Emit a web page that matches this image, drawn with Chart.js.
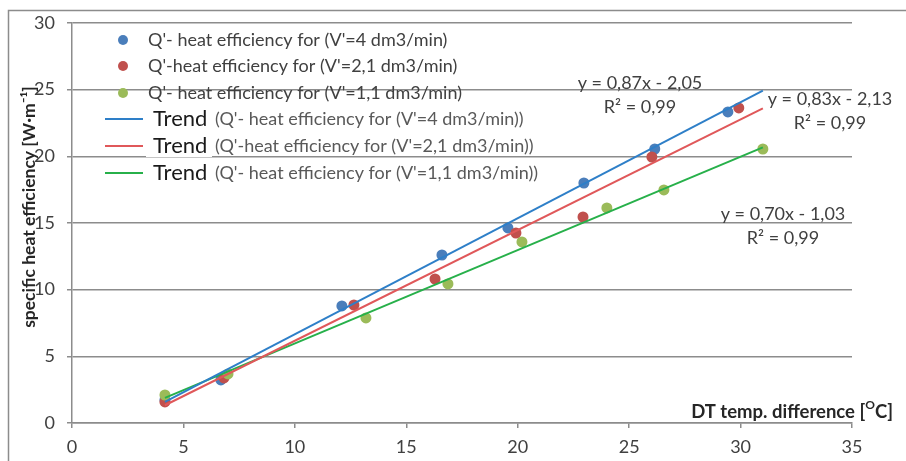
<!DOCTYPE html>
<html>
<head>
<meta charset="utf-8">
<script src="https://cdn.jsdelivr.net/npm/chart.js@4.4.1/dist/chart.umd.min.js"></script>
<style>
  html, body { margin: 0; padding: 0; background: #fff; }
</style>
</head>
<body>
<canvas id="grafico" width="906" height="461"></canvas>
<script>
// measured points (DT in degC, specific heat efficiency W/m)
const dt4 = [4.17, 6.68, 12.11, 16.6, 19.56, 22.97, 26.15, 29.43];
const q4  = [1.73, 3.23, 8.78, 12.6, 14.63, 18.0, 20.55, 23.33];
const dt21 = [4.17, 6.82, 12.65, 16.29, 19.92, 22.93, 26.02, 29.92];
const q21  = [1.58, 3.38, 8.85, 10.8, 14.25, 15.45, 19.95, 23.63];
const dt11 = [4.17, 7.0, 13.19, 16.87, 20.19, 24.0, 26.56, 31.0];
const q11  = [2.1, 3.68, 7.88, 10.43, 13.58, 16.13, 17.48, 20.55];

// trend lines y = a*x + b, drawn over the range below
const slopes = [0.87, 0.83, 0.70];
const intercepts = [-2.05, -2.13, -1.03];
const trendRange = [4.17, 31.0];
const eqLabels = [
  ['y = 0,87x - 2,05', 'R² = 0,99'],
  ['y = 0,83x - 2,13', 'R² = 0,99'],
  ['y = 0,70x - 1,03', 'R² = 0,99']
];

const pointLabels = [
  "Q'- heat efficiency for (V'=4 dm3/min)",
  "Q'-heat efficiency for (V'=2,1 dm3/min)",
  "Q'- heat efficiency for (V'=1,1 dm3/min)"
];
const trendLabels = [
  "(Q'- heat efficiency for (V'=4 dm3/min))",
  "(Q'-heat efficiency for (V'=2,1 dm3/min))",
  "(Q'- heat efficiency for (V'=1,1 dm3/min))"
];

const xTicks = [0, 5, 10, 15, 20, 25, 30, 35];
const yTicks = [0, 5, 10, 15, 20, 25, 30];

const pointColors = ['#4a7ebb', '#c0504d', '#9bbb59'];
const lineColors = ['#2e7fc8', '#e0585a', '#27b04a'];
const gris = '#8c8c8c';
const texto = '#404040';

function puntos(xs, ys) {
  return xs.map((x, i) => ({ x: x, y: ys[i] }));
}
function tendencia(i) {
  return trendRange.map(x => ({ x: x, y: slopes[i] * x + intercepts[i] }));
}

const seriesX = [dt4, dt21, dt11];
const seriesY = [q4, q21, q11];
const datasets = [];
for (let i = 0; i < 3; i++) {
  datasets.push({
    type: 'scatter',
    label: pointLabels[i],
    data: puntos(seriesX[i], seriesY[i]),
    backgroundColor: pointColors[i],
    borderColor: pointColors[i],
    pointRadius: 5.5,
    pointBorderWidth: 0,
    order: 3 - i + 1
  });
}
for (let i = 0; i < 3; i++) {
  datasets.push({
    type: 'line',
    label: 'Trend ' + trendLabels[i],
    data: tendencia(i),
    borderColor: lineColors[i],
    borderWidth: 2,
    pointRadius: 0,
    fill: false,
    order: 0
  });
}

const extras = {
  id: 'extras',
  beforeDraw(chart) {
    const ctx = chart.ctx;
    ctx.save();
    ctx.fillStyle = '#fff';
    ctx.fillRect(0, 0, chart.width, chart.height);
    ctx.strokeStyle = gris;
    ctx.lineWidth = 1.5;
    ctx.strokeRect(8.5, 10.5, 920, 480);
    ctx.restore();
  },
  afterDraw(chart) {
    const ctx = chart.ctx;
    ctx.save();
    ctx.textBaseline = 'middle';

    // legend
    const filas = [40, 66, 93, 119, 146, 173];
    for (let i = 0; i < 3; i++) {
      ctx.fillStyle = pointColors[i];
      ctx.beginPath();
      ctx.arc(123, filas[i], 5, 0, Math.PI * 2);
      ctx.fill();
      ctx.fillStyle = texto;
      ctx.font = '18px Lato';
      ctx.textAlign = 'left';
      ctx.fillText(pointLabels[i], 148, filas[i]);
    }
    for (let i = 0; i < 3; i++) {
      const y = filas[i + 3];
      ctx.fillStyle = '#fff';
      ctx.fillRect(146, y - 11, 66, 22);
      ctx.strokeStyle = lineColors[i];
      ctx.lineWidth = 2;
      ctx.beginPath();
      ctx.moveTo(105, y);
      ctx.lineTo(143, y);
      ctx.stroke();
      ctx.fillStyle = '#1a1a1a';
      ctx.font = '22px Lato';
      ctx.fillText('Trend', 153, y);
      ctx.fillStyle = '#595959';
      ctx.font = '18px Lato';
      ctx.fillText(trendLabels[i], 215, y);
    }

    // trend equations
    const eqPos = [[640, 83, 107], [830, 99, 123], [783, 214, 238]];
    ctx.fillStyle = texto;
    ctx.font = '18px Lato';
    ctx.textAlign = 'center';
    for (let i = 0; i < 3; i++) {
      ctx.fillText(eqLabels[i][0], eqPos[i][0], eqPos[i][1]);
      ctx.fillText(eqLabels[i][1], eqPos[i][0], eqPos[i][2]);
    }

    // y axis title
    ctx.save();
    ctx.translate(29, 207);
    ctx.rotate(-Math.PI / 2);
    ctx.fillStyle = '#262626';
    ctx.font = 'bold 17.5px Lato';
    ctx.textAlign = 'center';
    ctx.fillText('specific heat efficiency [W·m⁻¹]', 0, 0);
    ctx.restore();

    // x axis title, right aligned, with raised O
    ctx.fillStyle = '#262626';
    ctx.textAlign = 'left';
    const p1 = 'DT temp. difference [';
    const p2 = 'O';
    const p3 = 'C]';
    ctx.font = 'bold 18.5px Lato';
    const w1 = ctx.measureText(p1).width;
    const w3 = ctx.measureText(p3).width;
    ctx.font = 'bold 12px Lato';
    const w2 = ctx.measureText(p2).width;
    const x = 893 - w1 - w2 - w3;
    ctx.font = 'bold 18.5px Lato';
    ctx.fillText(p1, x, 412);
    ctx.font = 'bold 12px Lato';
    ctx.fillText(p2, x + w1, 405);
    ctx.font = 'bold 18.5px Lato';
    ctx.fillText(p3, x + w1 + w2, 412);

    ctx.restore();
  }
};

new Chart(document.getElementById('grafico'), {
  data: { datasets: datasets },
  options: {
    responsive: false,
    animation: false,
    layout: { padding: { left: 0, right: 54, top: 23, bottom: 0 } },
    plugins: {
      legend: { display: false },
      tooltip: { enabled: false }
    },
    scales: {
      x: {
        type: 'linear',
        min: 0,
        max: 35,
        afterBuildTicks: s => { s.ticks = xTicks.map(v => ({ value: v })); },
        afterFit: s => { s.height = 38; },
        grid: { drawOnChartArea: false, drawTicks: true, tickLength: 5, color: gris, lineWidth: 1.5 },
        border: { color: gris, width: 1.5 },
        ticks: { color: texto, font: { family: 'Lato', size: 18 }, padding: 8 }
      },
      y: {
        type: 'linear',
        min: 0,
        max: 30,
        afterBuildTicks: s => { s.ticks = yTicks.map(v => ({ value: v })); },
        afterFit: s => { s.width = 72; },
        grid: { drawTicks: true, tickLength: 5, color: gris, lineWidth: 1.5 },
        border: { color: gris, width: 1.5 },
        ticks: { color: texto, font: { family: 'Lato', size: 18 }, padding: 12 }
      }
    }
  },
  plugins: [extras]
});
</script>
</body>
</html>
